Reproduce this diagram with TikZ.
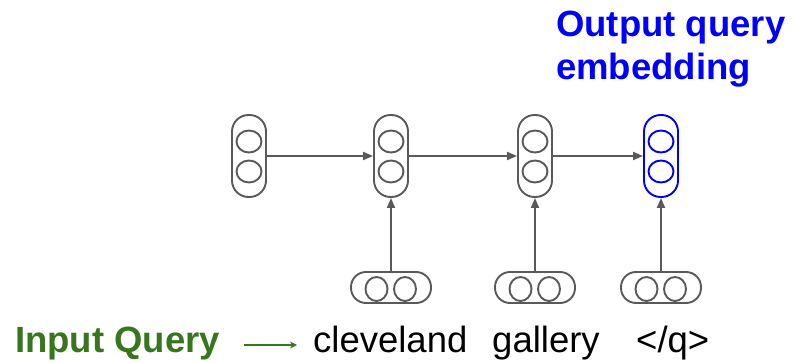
\documentclass[tikz,border=0pt]{standalone}
\usepackage{fontspec}
\setmainfont{Liberation Sans}
\usetikzlibrary{arrows.meta,calc}
\definecolor{linegrey}{HTML}{595959}
\definecolor{qgreen}{HTML}{38761D}
\definecolor{qblue}{HTML}{0000FF}
\begin{document}
\begin{tikzpicture}[x=1pt,y=-1pt,
  vcell/.style={draw=linegrey,line width=1.9pt,rounded corners=16.5pt,minimum width=34pt,minimum height=82pt,inner sep=0pt},
  hcell/.style={draw=linegrey,line width=1.9pt,rounded corners=15pt,minimum width=80pt,minimum height=31pt,inner sep=0pt},
  unit/.style={draw=linegrey,line width=1.9pt},
  flow/.style={draw=linegrey,line width=1.9pt,-{Triangle[length=10pt,width=8pt]}},
  word/.style={anchor=base west,inner sep=0pt,font=\fontsize{36.5}{40}\selectfont},
  label/.style={word,font=\fontsize{36.5}{40}\selectfont\bfseries}
]
\useasboundingbox (0,0) rectangle (794,363);

% recurrent cells of the query encoder
\foreach \n/\x/\c in {r1/249/linegrey, r2/391/linegrey, r3/535/linegrey, r4/661/qblue}{
  \node[vcell,draw=\c] (\n) at (\x,156) {};
  \draw[unit,draw=\c] (\x,141.5) ellipse [x radius=12.5, y radius=11];
  \draw[unit,draw=\c] (\x,171.5) ellipse [x radius=12.5, y radius=11];
}

% word embeddings
\foreach \n/\x in {e1/391, e2/535, e3/661}{
  \node[hcell] (\n) at (\x,287.5) {};
  \draw[unit] (\x-14.5,289) ellipse [x radius=11, y radius=12];
  \draw[unit] (\x+14,289) ellipse [x radius=11, y radius=12];
}

% recurrence
\draw[flow] (r1.east) -- (r2.west);
\draw[flow] (r2.east) -- (r3.west);
\draw[flow] (r3.east) -- (r4.west);

% inputs
\draw[flow] (e1.north) -- (r2.south);
\draw[flow] (e2.north) -- (r3.south);
\draw[flow] (e3.north) -- (r4.south);

% labels
\node[label,text=qblue] (out1) at (556,37) {Output query};
\node[label,text=qblue] (out2) at (556,80) {embedding};
\node[label,text=qgreen] (inq) at (15,352) {Input Query};
\node[word] (w1) at (313,352) {cleveland};
\node[word] (w2) at (492,352) {gallery};
\node[word] (w3) at (636,352) {</q>};

\draw[qgreen,line width=1.4pt,-{Stealth[length=7pt,width=7pt]}]
  ($(inq.base east)+(24,-7)$) -- ($(w1.base west)+(-16,-7)$);
\end{tikzpicture}
\end{document}
